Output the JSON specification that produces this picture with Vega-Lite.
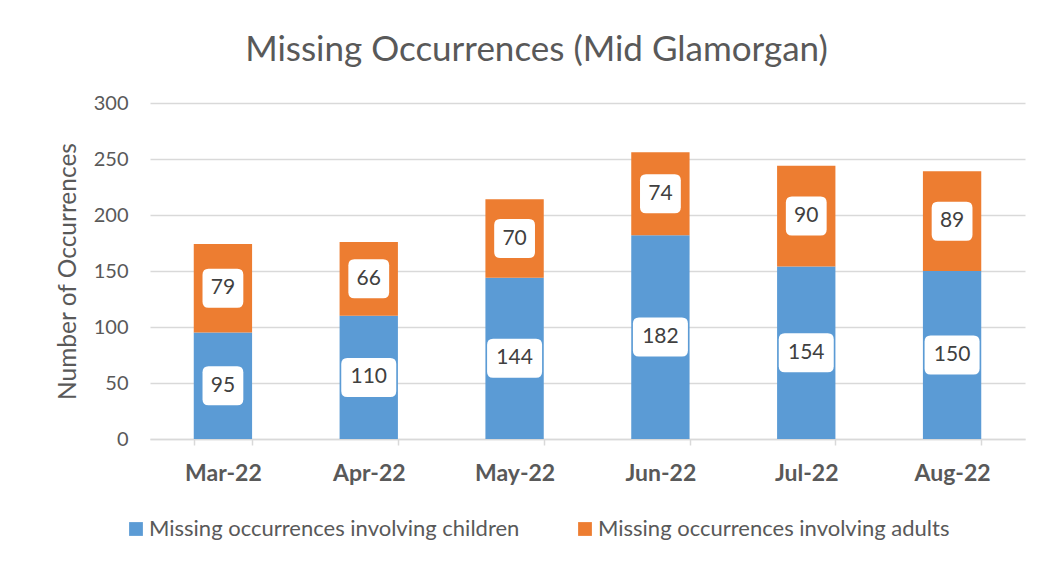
{
  "$schema": "https://vega.github.io/schema/vega-lite/v6.json",
  "width": 875,
  "height": 336,
  "autosize": {"type": "none"},
  "padding": {"left": 150, "top": 103, "right": 15, "bottom": 126},
  "background": "white",
  "config": {"font": "Lato", "view": {"stroke": null}},
  "title": {
    "text": "Missing Occurrences (Mid Glamorgan)",
    "fontSize": 35,
    "fontWeight": "normal",
    "color": "#595959",
    "anchor": "middle",
    "dx": -51,
    "offset": 25
  },
  "data": {
    "values": [
      {"month": "Mar-22", "series": "Missing occurrences involving children", "value": 95},
      {"month": "Mar-22", "series": "Missing occurrences involving adults", "value": 79},
      {"month": "Apr-22", "series": "Missing occurrences involving children", "value": 110},
      {"month": "Apr-22", "series": "Missing occurrences involving adults", "value": 66},
      {"month": "May-22", "series": "Missing occurrences involving children", "value": 144},
      {"month": "May-22", "series": "Missing occurrences involving adults", "value": 70},
      {"month": "Jun-22", "series": "Missing occurrences involving children", "value": 182},
      {"month": "Jun-22", "series": "Missing occurrences involving adults", "value": 74},
      {"month": "Jul-22", "series": "Missing occurrences involving children", "value": 154},
      {"month": "Jul-22", "series": "Missing occurrences involving adults", "value": 90},
      {"month": "Aug-22", "series": "Missing occurrences involving children", "value": 150},
      {"month": "Aug-22", "series": "Missing occurrences involving adults", "value": 89}
    ]
  },
  "transform": [
    {"stack": "value", "groupby": ["month"], "sort": [{"field": "series", "order": "descending"}], "as": ["y0", "y1"]},
    {"calculate": "(datum.y0 + datum.y1) / 2", "as": "ymid"}
  ],
  "encoding": {
    "x": {
      "field": "month",
      "type": "nominal",
      "sort": null,
      "scale": {"paddingInner": 0.6, "paddingOuter": 0.3},
      "axis": {
        "title": null,
        "labelAngle": 0,
        "labelFontWeight": "bold",
        "labelFontSize": 23,
        "labelColor": "#595959",
        "labelPadding": 17,
        "domainColor": "#D9D9D9",
        "domainWidth": 1.5,
        "tickColor": "#D9D9D9",
        "tickWidth": 1.5,
        "tickSize": 6,
        "tickBand": "extent",
        "grid": false
      }
    }
  },
  "layer": [
    {
      "mark": {"type": "bar"},
      "encoding": {
        "y": {
          "field": "y0",
          "type": "quantitative",
          "scale": {"domain": [0, 300]},
          "axis": {
            "values": [0, 50, 100, 150, 200, 250, 300],
            "title": "Number of Occurrences",
            "titleFontSize": 24.5,
            "titleFontWeight": "normal",
            "titleColor": "#595959",
            "titlePadding": 13,
            "labelFontSize": 20,
            "labelColor": "#595959",
            "labelPadding": 22,
            "domain": false,
            "ticks": false,
            "gridColor": "#D9D9D9",
            "gridWidth": 1.5
          }
        },
        "y2": {"field": "y1"},
        "color": {
          "field": "series",
          "type": "nominal",
          "scale": {
            "domain": ["Missing occurrences involving children", "Missing occurrences involving adults"],
            "range": ["#5B9BD5", "#ED7D31"]
          },
          "legend": {
            "orient": "none",
            "legendX": -25,
            "legendY": 415,
            "direction": "horizontal",
            "title": null,
            "symbolType": "square",
            "symbolSize": 190,
            "symbolStrokeWidth": 0,
            "labelFontSize": 22,
            "labelColor": "#595959",
            "labelOffset": 2,
            "columnPadding": 54,
            "labelLimit": 600
          }
        }
      }
    },
    {
      "mark": {"type": "point", "filled": true, "color": "white", "opacity": 1, "size": 1600},
      "encoding": {
        "y": {"field": "ymid", "type": "quantitative"},
        "shape": {
          "condition": {
            "test": "datum.value >= 100",
            "value": "M -1.075 -0.975 L 1.075 -0.975 Q 1.375 -0.975 1.375 -0.675 L 1.375 0.675 Q 1.375 0.975 1.075 0.975 L -1.075 0.975 Q -1.375 0.975 -1.375 0.675 L -1.375 -0.675 Q -1.375 -0.975 -1.075 -0.975 Z"
          },
          "value": "M -0.72 -0.975 L 0.72 -0.975 Q 1.02 -0.975 1.02 -0.675 L 1.02 0.675 Q 1.02 0.975 0.72 0.975 L -0.72 0.975 Q -1.02 0.975 -1.02 0.675 L -1.02 -0.675 Q -1.02 -0.975 -0.72 -0.975 Z"
        }
      }
    },
    {
      "mark": {"type": "text", "fontSize": 21, "color": "#404040", "baseline": "middle"},
      "encoding": {
        "y": {"field": "ymid", "type": "quantitative"},
        "text": {"field": "value", "type": "quantitative"}
      }
    }
  ]
}
